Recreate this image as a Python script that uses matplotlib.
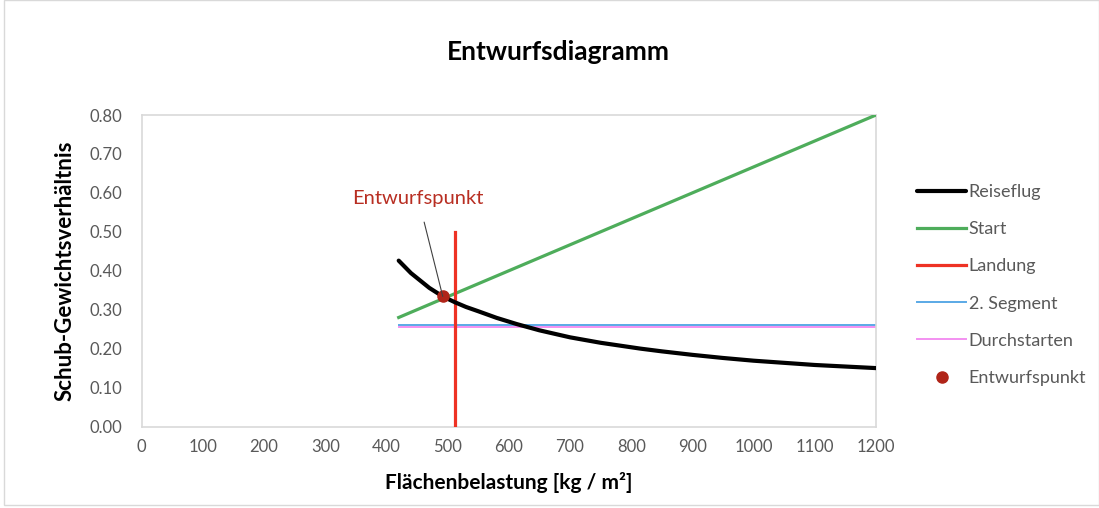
import matplotlib
matplotlib.use("Agg")
import matplotlib.pyplot as plt
from matplotlib.patches import Rectangle

# ---- data ----
reise_x = [420, 440, 470, 492, 512, 530, 550, 580, 613, 650, 700, 750, 815, 850,
           900, 950, 1000, 1100, 1200]
reise_y = [0.426, 0.394, 0.356, 0.334, 0.319, 0.307, 0.296, 0.279, 0.263, 0.247,
           0.229, 0.215, 0.200, 0.193, 0.184, 0.176, 0.169, 0.158, 0.150]

start_x = [420, 1200]
start_y = [0.28, 0.80]

landung_x = [512, 512]
landung_y = [0.0, 0.50]

segment_x = [420, 1200]
segment_y = [0.2595, 0.2595]

durch_x = [420, 1200]
durch_y = [0.2555, 0.2555]

punkt_x = [492]
punkt_y = [0.334]

x_ticks = [0, 100, 200, 300, 400, 500, 600, 700, 800, 900, 1000, 1100, 1200]
y_ticks = [0.0, 0.1, 0.2, 0.3, 0.4, 0.5, 0.6, 0.7, 0.8]

title = "Entwurfsdiagramm"
x_label = "Flächenbelastung [kg / m²]"
y_label = "Schub-Gewichtsverhältnis"

plt.rcParams['font.family'] = ['Lato', 'DejaVu Sans']

W, H = 1099, 508
fig = plt.figure(figsize=(W / 100, H / 100), dpi=100)

L, R, T, B = 141.7, 876, 115, 426.5
ax = fig.add_axes([L / W, 1 - B / H, (R - L) / W, (B - T) / H])

grey = "#595959"
frame = "#D9D9D9"

l1, = ax.plot(reise_x, reise_y, color="black", lw=3.0, solid_capstyle="round",
              solid_joinstyle="round", label="Reiseflug", zorder=4)
l2, = ax.plot(start_x, start_y, color="#4EAD5B", lw=2.3, label="Start", zorder=3)
l3, = ax.plot(landung_x, landung_y, color="#EE3224", lw=2.3, label="Landung", zorder=3)
l4, = ax.plot(segment_x, segment_y, color="#5AA9E6", lw=1.4, label="2. Segment", zorder=2)
l5, = ax.plot(durch_x, durch_y, color="#F075EE", lw=1.4, alpha=0.8, label="Durchstarten", zorder=2)
l6, = ax.plot(punkt_x, punkt_y, "o", color="#B02418", ms=8, label="Entwurfspunkt", zorder=5)

ax.annotate("Entwurfspunkt", xy=(punkt_x[0], punkt_y[0]), xytext=(452, 0.585),
            ha="center", va="center", fontsize=14.5, color="#B82E22",
            arrowprops=dict(arrowstyle="-", color="#404040", lw=0.8,
                            shrinkA=9, shrinkB=0), zorder=6)

ax.set_xlim(0, 1200)
ax.set_ylim(0, 0.8)
ax.set_xticks(x_ticks)
ax.set_yticks(y_ticks)
ax.set_xticklabels([str(v) for v in x_ticks])
ax.set_yticklabels([f"{v:.2f}" for v in y_ticks])
ax.tick_params(length=0, labelsize=12, labelcolor=grey, pad=9)
ax.tick_params(axis="y", pad=14)
for s in ax.spines.values():
    s.set_color(frame)
    s.set_linewidth(1.2)

ax.set_xlabel(x_label, fontsize=15, fontweight="bold", labelpad=12)
ax.set_ylabel(y_label, fontsize=16, fontweight="bold", labelpad=10)

fig.text(558 / W, 1 - 52 / H, title, ha="center", va="center", fontsize=19, fontweight="bold")

fig.legend(handles=[l1, l2, l3, l4, l5, l6], loc="upper left",
           bbox_to_anchor=(910 / W, 1 - 177 / H), frameon=False,
           fontsize=13, labelcolor=grey, handlelength=2.7, handletextpad=0.15,
           labelspacing=1.17, borderaxespad=0)

fig.patches.append(Rectangle((4 / W, 3 / H), (W - 4) / W, (H - 3) / H, transform=fig.transFigure,
                             fill=False, edgecolor=frame, lw=1.0))

fig.savefig("out.png", dpi=100)
